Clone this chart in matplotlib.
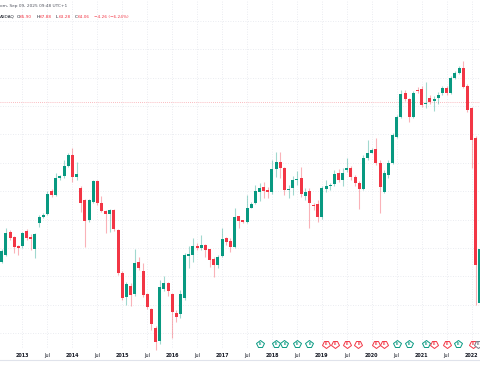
import matplotlib
matplotlib.use("Agg")
import matplotlib.pyplot as plt
import numpy as np
from matplotlib.markers import MarkerStyle
from matplotlib.transforms import Affine2D, blended_transform_factory

# ---------------- data (monthly candles, index 0 = Aug 2012) ----------------
open_ = [48.1, 48.8, 51.1, 50.6, 49.7, 49.7, 51.2, 50.6, 49.4, 52.0,
         52.6, 52.9, 55.2, 54.8, 56.5, 56.7, 57.7, 58.8, 56.6, 55.5,
         54.3, 52.3, 54.1, 56.2, 54.0, 53.2, 52.9, 53.3, 51.3, 47.0,
         44.6, 45.7, 44.9, 48.1, 47.2, 44.9, 43.4, 41.5, 40.2, 45.4,
         46.0, 44.9, 43.0, 42.9, 44.5, 48.7, 48.8, 49.7, 49.5, 49.8,
         49.4, 48.4, 47.8, 48.7, 50.5, 50.2, 49.6, 52.7, 52.3, 52.1,
         53.5, 54.0, 55.1, 55.6, 55.3, 55.1, 57.4, 58.1, 57.5, 55.3,
         55.5, 56.3, 56.5, 54.7, 55.2, 53.8, 53.9, 52.6, 55.4, 55.7,
         55.9, 57.0, 56.3, 57.3, 57.5, 56.6, 56.0, 55.4, 58.5, 59.0,
         59.4, 58.0, 55.1, 56.8, 58.0, 60.6, 62.6, 65.0, 64.4, 62.6,
         65.3, 65.4, 63.9, 64.5, 64.2, 64.5, 65.0, 65.5, 65.0, 66.5,
         67.0, 67.5, 65.7, 63.5, 60.5, 44.0]
close = [49.2, 51.0, 50.5, 49.6, 49.5, 51.0, 50.5, 50.4, 50.9, 52.6,
         52.8, 54.9, 54.8, 56.5, 56.7, 57.7, 58.8, 56.6, 56.9, 54.0,
         52.2, 54.3, 56.2, 54.0, 53.2, 52.9, 53.3, 51.4, 47.0, 44.5,
         45.9, 44.8, 48.0, 47.5, 44.8, 43.6, 41.9, 40.1, 45.6, 46.0,
         45.2, 43.1, 42.6, 44.9, 48.8, 48.9, 49.7, 49.5, 49.8, 49.3,
         48.3, 47.8, 48.6, 50.4, 50.1, 49.6, 52.6, 52.2, 52.1, 53.5,
         53.9, 55.2, 55.5, 55.2, 55.1, 57.4, 58.1, 57.5, 55.3, 55.4,
         56.3, 56.4, 54.9, 55.1, 54.0, 53.7, 52.6, 55.5, 55.7, 55.8,
         56.9, 56.3, 57.0, 57.5, 56.6, 56.0, 55.4, 58.5, 59.0, 59.3,
         58.0, 55.6, 57.0, 58.0, 60.8, 62.6, 64.9, 64.4, 62.6, 65.0,
         65.2, 63.8, 64.0, 64.1, 64.4, 64.8, 65.5, 65.0, 66.5, 67.0,
         67.5, 65.6, 63.3, 60.3, 47.8, 49.4]
high = [49.4, 51.5, 51.3, 50.7, 49.8, 51.1, 51.4, 50.9, 51.0, 52.8,
        53.0, 55.2, 55.4, 57.0, 56.8, 58.3, 59.0, 59.5, 58.1, 55.7,
        54.4, 54.4, 56.3, 56.3, 54.7, 53.3, 53.4, 53.4, 51.4, 47.2,
        46.1, 46.0, 49.4, 48.6, 48.0, 45.0, 43.5, 41.7, 46.3, 46.7,
        46.1, 45.0, 43.3, 45.3, 49.0, 49.7, 50.5, 50.0, 50.8, 49.9,
        49.4, 48.6, 48.8, 51.5, 50.6, 50.5, 53.5, 52.7, 52.3, 54.8,
        54.1, 55.8, 56.0, 56.1, 55.6, 58.3, 59.1, 59.1, 57.6, 55.8,
        56.7, 57.2, 57.6, 55.5, 55.5, 54.0, 54.3, 55.7, 56.3, 56.0,
        57.3, 57.4, 57.5, 58.5, 57.7, 56.8, 56.2, 58.8, 60.3, 59.5,
        60.5, 58.3, 57.3, 58.3, 61.0, 62.8, 65.3, 65.3, 64.5, 65.2,
        65.6, 65.7, 66.1, 64.8, 64.7, 65.1, 65.7, 65.7, 66.7, 67.2,
        67.7, 68.2, 65.9, 63.6, 60.7, 51.1]
low = [48.0, 48.7, 50.3, 49.0, 48.8, 49.5, 50.3, 49.3, 48.5, 51.6,
       52.5, 52.8, 54.6, 54.7, 56.3, 56.5, 57.6, 56.1, 56.3, 53.1,
       49.6, 52.1, 54.0, 53.8, 53.1, 51.0, 51.1, 51.2, 46.8, 44.3,
       43.8, 43.7, 44.7, 47.3, 44.6, 43.4, 41.3, 39.3, 39.9, 45.2,
       44.7, 40.5, 42.1, 42.5, 44.3, 47.5, 48.1, 49.3, 49.3, 48.6,
       47.6, 46.6, 47.5, 48.6, 49.8, 49.1, 49.5, 51.5, 52.0, 52.0,
       53.5, 53.9, 54.2, 54.5, 54.5, 54.9, 56.6, 56.5, 54.8, 54.5,
       54.8, 55.8, 54.6, 54.3, 51.5, 53.3, 52.1, 52.4, 55.1, 55.3,
       55.7, 56.1, 55.7, 57.1, 56.3, 55.7, 53.4, 55.3, 58.3, 59.0,
       57.8, 53.0, 55.0, 56.5, 57.9, 60.5, 62.5, 64.2, 62.1, 62.5,
       65.0, 63.6, 63.5, 63.9, 63.2, 63.9, 64.8, 64.8, 64.9, 66.4,
       66.9, 65.5, 63.1, 57.5, 43.8, 43.8]

last_price = 64.06

tick_labels = ["Jul", "2013", "Jul", "2014", "Jul", "2015", "Jul", "2016", "Jul",
               "2017", "Jul", "2018", "Jul", "2019", "Jul", "2020", "Jul", "2021",
               "Jul", "2022"]
tick_dates = [(2012, 7), (2013, 1), (2013, 7), (2014, 1), (2014, 7), (2015, 1),
              (2015, 7), (2016, 1), (2016, 7), (2017, 1), (2017, 7), (2018, 1),
              (2018, 7), (2019, 1), (2019, 7), (2020, 1), (2020, 7), (2021, 1),
              (2021, 7), (2022, 1)]

# earnings events (month index) and result
earn_x = [62, 66, 68, 71, 74, 78, 80.2, 83, 85.8, 90, 91.9, 95, 98, 102, 104,
          107, 109.8, 113.4, 114.5]
earn_kind = ["beat", "beat", "beat", "beat", "beat", "miss", "miss", "miss",
             "miss", "miss", "miss", "beat", "beat", "beat", "miss", "miss",
             "beat", "miss", "none"]

# ---------------- styling ----------------
UP = "#089981"
DOWN = "#F23645"
TXT = "#131722"
GRID = "#e3e6ec"

plt.rcParams["font.family"] = ["DejaVu Sans"]

fig = plt.figure(figsize=(4.8, 3.84), dpi=100)
ax = fig.add_axes([0, 0, 1, 1])
ax.set_xlim(-0.41, 115.03)
ax.set_ylim(35.9, 74.3)
ax.axis("off")

pane_bottom = 0.096

# horizontal grid
for p in np.arange(40.98, 73.0, 2.84):
    ax.axhline(p, color=GRID, lw=0.6, ls=(0, (1, 2)), zorder=0)
# vertical grid + labels
tick_pos = [(y - 2012) * 12 + (m - 8) for (y, m) in tick_dates]
trans = blended_transform_factory(ax.transData, ax.transAxes)
for pos, lab in zip(tick_pos, tick_labels):
    ax.axvline(pos, ymin=pane_bottom, ymax=1, color=GRID, lw=0.6,
               ls=(0, (1, 2)), zorder=0)
    ax.text(pos, 0.0755, lab, transform=trans, ha="center", va="center",
            fontsize=3.5, color=TXT,
            fontweight="bold" if lab != "Jul" else "normal")

# bottom axis border
ax.plot([0, 1], [0.0625, 0.0625], transform=ax.transAxes, color="#e0e3eb",
        lw=0.8, clip_on=False)

# current price line
ax.axhline(last_price, color=DOWN, lw=0.6, ls=(0, (1, 1.5)), alpha=0.45,
           zorder=1)

# candles
x = np.arange(len(open_))
o = np.array(open_)
c = np.array(close)
h = np.array(high)
l = np.array(low)
colors = [UP if cc >= oo else DOWN for oo, cc in zip(o, c)]
ax.vlines(x, l, h, colors=colors, lw=0.8, alpha=0.38, zorder=2)
body_b = np.minimum(o, c)
body_h = np.maximum(np.abs(c - o), 0.12)
ax.bar(x, body_h, bottom=body_b, width=0.72, color=colors, lw=0, zorder=3)

# earnings markers
up_mark = MarkerStyle("p")
down_mark = MarkerStyle("p", transform=Affine2D().rotate_deg(180))
for ex, kind in zip(earn_x, earn_kind):
    col = UP if kind == "beat" else (DOWN if kind == "miss" else "#787b86")
    mk = up_mark if kind == "beat" else down_mark
    ax.plot([ex], [0.104], transform=trans, marker=mk, markersize=5.6,
            markerfacecolor="white", markeredgecolor=col, markeredgewidth=0.7,
            linestyle="none", zorder=5, clip_on=True)
    ax.text(ex, 0.103, "E", transform=trans, ha="center", va="center",
            fontsize=2.5, color=col, fontweight="bold", zorder=6)

# header
fig.text(0.0, 0.984, "om, Sep 09, 2025 09:48 UTC+1", ha="left", va="center",
         fontsize=3.1, color="#50535e")
pieces = [("ASDAQ", TXT, 0), ("O", TXT, 1.2), ("65.90", DOWN, 0.2),
          ("H", TXT, 3.0), ("67.88", DOWN, 0.2), ("L", TXT, 3.0),
          ("63.28", DOWN, 0.2), ("C", TXT, 3.0), ("64.06", DOWN, 0.2),
          ("\u22124.26 (\u22126.24%)", DOWN, 3.0)]
prev = fig.text(0.0, 0.957, pieces[0][0], ha="left", va="center",
                fontsize=3.1, color=pieces[0][1])
for txt, col, gap in pieces[1:]:
    prev = ax.annotate(txt, xy=(1, 0), xycoords=prev, xytext=(gap, 0),
                       textcoords="offset points", ha="left", va="bottom",
                       fontsize=3.1, color=col, annotation_clip=False)

fig.savefig("out.png", dpi=100, facecolor="white")
